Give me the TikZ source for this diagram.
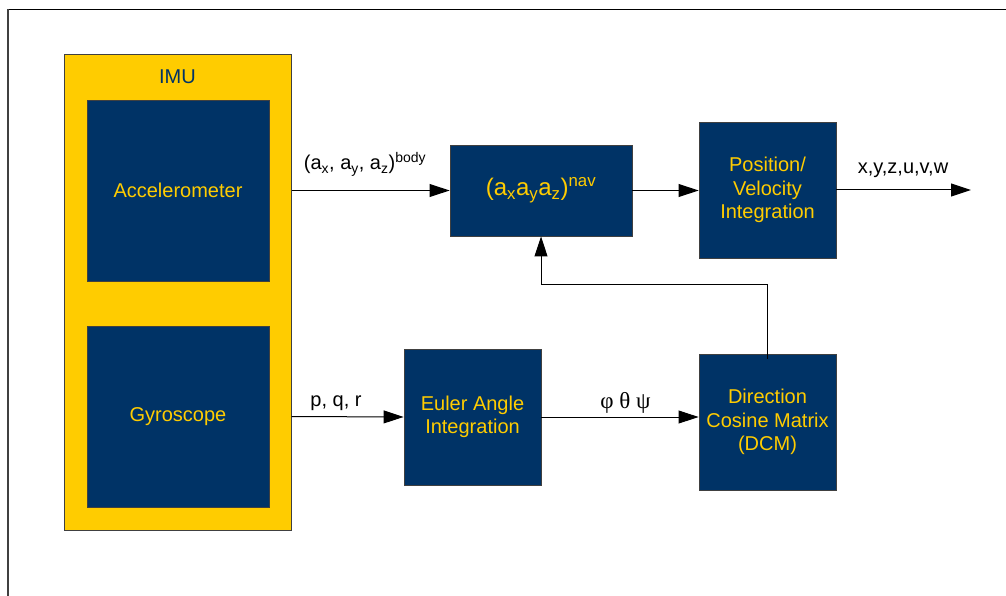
\documentclass[tikz,border=0pt]{standalone}
\usepackage{fontspec}
\setmainfont{Liberation Sans}
\newfontfamily\greekfont{Liberation Serif}
\usetikzlibrary{arrows.meta}
\definecolor{imuyellow}{HTML}{FFCC00}
\definecolor{navblue}{HTML}{003366}
\definecolor{edgegray}{HTML}{404040}
\tikzset{
  blk/.style={draw=edgegray, line width=0.9pt, fill=navblue, text=imuyellow,
    align=center, inner sep=0pt, font=\fontsize{20}{23.5}\selectfont},
  imubox/.style={draw=edgegray, line width=1pt, fill=imuyellow},
  arr/.style={draw=black, line width=1pt, -{Triangle[length=20pt,width=13pt]}},
  lbl/.style={anchor=base, inner sep=0pt, font=\fontsize{20}{24}\selectfont},
}
\begin{document}
\begin{tikzpicture}[x=1pt,y=-1pt]
\useasboundingbox (0,0) rectangle (1006,596);
\fill[white] (0,0) rectangle (1006,596);
% frame
\draw[black, line width=1.6pt] (8,9.5) -- (1006,9.5);
\draw[edgegray, line width=1.2pt] (8,9.5) -- (8,596);
% IMU
\node[imubox, minimum width=227pt, minimum height=475pt] (imu) at (177.5,292.5) {};
\node[text=navblue, font=\fontsize{20}{24}\selectfont] (imulbl) at (177.5,77) {IMU};
\node[blk, minimum width=182pt, minimum height=181pt] (acc) at (178,190.5) {Accelerometer};
\node[blk, minimum width=182pt, minimum height=181pt] (gyro) at (178,416.5) {Gyroscope};
% processing blocks
\node[blk, minimum width=182pt, minimum height=91pt, font=\fontsize{24}{28}\selectfont] (nav) at (541,190.5)
  {(a\textsubscript{x}a\textsubscript{y}a\textsubscript{z})\textsuperscript{nav}};
\node[blk, minimum width=137pt, minimum height=136pt] (pos) at (767.5,190) {Position/\\Velocity\\Integration};
\node[blk, minimum width=137pt, minimum height=136pt] (euler) at (472.5,417) {Euler Angle\\Integration};
\node[blk, minimum width=137pt, minimum height=136pt] (dcm) at (767.5,422) {Direction\\Cosine Matrix\\(DCM)};
\coordinate (out) at (971,190);
\coordinate (fbtop) at (767.5,284);
% connectors
\draw[arr] (acc.east -| imu.east) -- (nav.west);
\draw[arr] (nav.east) -- (nav.east -| pos.west);
\draw[arr] (pos.east) -- (out);
\draw[arr] (gyro.east -| imu.east) -- (euler.west);
\draw[arr] (euler.east) -- (euler.east -| dcm.west);
\draw[arr] ([yshift=-5pt]dcm.north) -- (fbtop) -| (nav.south);
% labels
\node[lbl] (lbody) at (365,170) {(a\textsubscript{x}, a\textsubscript{y}, a\textsubscript{z})\textsuperscript{body}};
\node[lbl] (lpqr) at (336,406.5) {p, q, r};
\node[lbl, font=\greekfont\fontsize{23}{26}\selectfont] (lang) at (625.5,408) {φ θ ψ};
\node[lbl] (lout) at (903,174) {x,y,z,u,v,w};
\end{tikzpicture}
\end{document}
